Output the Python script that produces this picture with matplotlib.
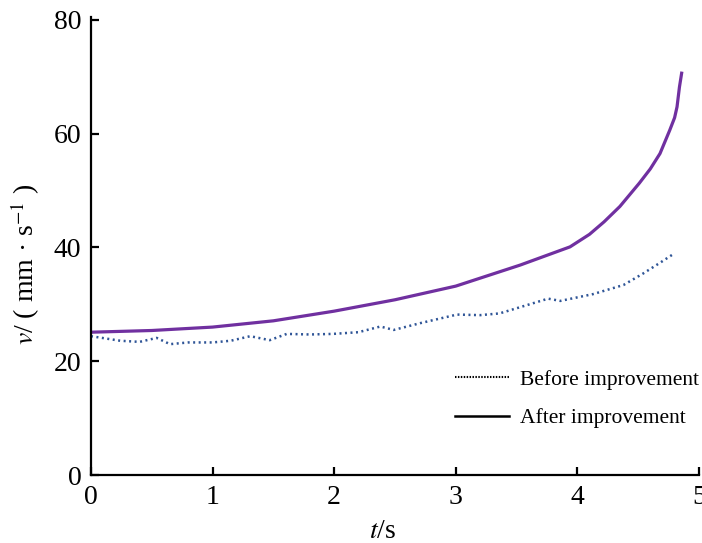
import numpy as np
import matplotlib.pyplot as plt
from matplotlib.lines import Line2D

plt.rcParams['font.family'] = ['Liberation Serif', 'DejaVu Serif']
plt.rcParams['mathtext.fontset'] = 'stix'

# after improvement (solid purple)
t_after = [0, 0.5, 1.0, 1.5, 2.0, 2.5, 3.0, 3.53, 3.94, 4.10, 4.22, 4.35, 4.51, 4.60, 4.68, 4.76, 4.80, 4.82, 4.84, 4.86]
v_after = [25.1, 25.4, 26.0, 27.1, 28.8, 30.8, 33.2, 36.9, 40.1, 42.3, 44.5, 47.2, 51.3, 53.8, 56.5, 60.6, 62.8, 64.7, 68.2, 70.9]

# before improvement (dotted blue)
t_before = [0.0, 0.12, 0.24, 0.4, 0.54, 0.65, 0.8, 1.0, 1.15, 1.31, 1.47, 1.61, 1.8, 1.99, 2.2,
            2.38, 2.49, 2.71, 3.01, 3.20, 3.36, 3.53, 3.76, 3.86, 4.13, 4.38, 4.54, 4.68, 4.78]
v_before = [24.4, 24.0, 23.6, 23.4, 24.1, 23.0, 23.3, 23.3, 23.6, 24.4, 23.7, 24.8, 24.7, 24.8, 25.1,
            26.1, 25.5, 26.7, 28.2, 28.1, 28.4, 29.5, 31.0, 30.6, 31.8, 33.4, 35.4, 37.3, 38.7]

legend_labels = ['Before improvement', 'After improvement']

fig = plt.figure(figsize=(7.02, 5.43), dpi=100)
ax = fig.add_axes([0.1296, 0.1252, 0.866, 0.8435])

ax.plot(t_after, v_after, color='#7030A0', lw=2.3, solid_capstyle='butt')
ax.plot(t_before, v_before, color='#2F5597', lw=1.8, linestyle=(0, (0.8, 1.4)))

ax.set_xlim(0, 5)
ax.set_ylim(0, 80.5)
ax.set_xticks([0, 1, 2, 3, 4, 5])
ax.set_yticks([0, 20, 40, 60, 80])

for s in ['top', 'right']:
    ax.spines[s].set_visible(False)
for s in ['left', 'bottom']:
    ax.spines[s].set_linewidth(1.6)

ax.tick_params(direction='in', length=6, width=1.6, labelsize=20, pad=7)

ax.set_xlabel('$t$/s', fontsize=20)
ax.xaxis.set_label_coords(0.48, -0.095)
ax.set_ylabel('$v$/ ( mm · s$^{-1}$ )', fontsize=20)
ax.yaxis.set_label_coords(-0.08, 0.46)

handles = [Line2D([], [], color='black', lw=1.5, linestyle=(0, (0.7, 0.7))),
           Line2D([], [], color='black', lw=1.8)]
ax.legend(handles, legend_labels, loc='lower right', bbox_to_anchor=(1.0, 0.102),
          frameon=False, fontsize=15.5, handlelength=2.5, handletextpad=0.5,
          labelspacing=0.85, borderaxespad=0, borderpad=0)

fig.savefig('out.png', dpi=100)
